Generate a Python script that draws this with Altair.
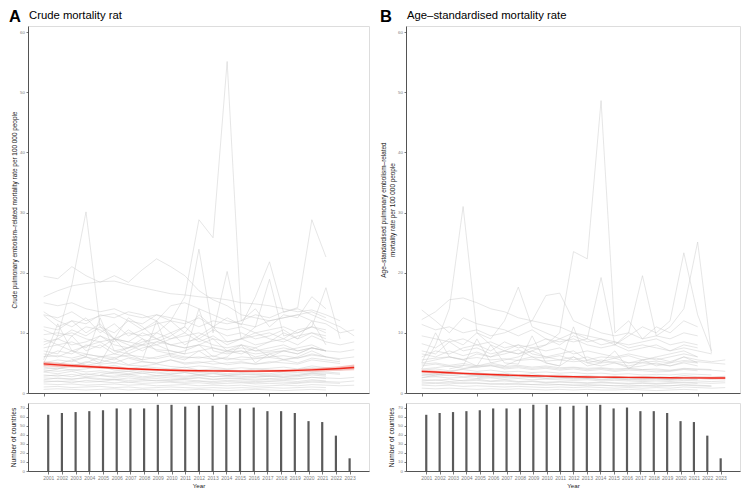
import altair as alt
import pandas as pd

YEARS = list(range(2001, 2024))
COUNTS = [62, 64, 65, 66, 67, 69, 69, 69, 73, 73, 71, 72, 72, 73, 69, 70, 66, 66, 64, 55, 54, 39, 14]

N = None
CRUDE = [
    [19.4, 19.0, 21.0, 19.5, 18.4, 19.5, 18.4, 20.5, 22.3, 21.0, 19.5, 17.0, 15.5, 14.5, 13.0, 12.5, 12.0, 12.5, 13.0, 13.5, 12.5],
    [16.0, 17.0, 17.8, 18.2, 18.5, 18.6, 18.0, 17.5, 17.0, 16.5, 16.3, 16.0, 15.8, 15.5, 15.0, 14.8, 14.5, 14.0, 13.5, 13.8, 13.0, 12.0],
    [5.0, 9.5, 18.0, 30.1, 11.0, 9.0, 8.5, 10.0, 9.0, 8.0, 8.5, 9.0, 8.0, 7.5, 8.0, 7.0, 7.5, 8.0, 7.0, 7.5, 7.0],
    [3.5, 4.0, 4.5, 5.0, 6.0, 5.5, 7.0, 8.0, 10.0, 12.0, 16.0, 28.8, 25.8, 55.1, 12.0, 14.0, 11.0, 13.0, 12.5, 16.0, 14.0],
    [8.0, 9.0, 10.5, 9.5, 11.0, 10.0, 12.0, 10.5, 11.5, 12.0, 10.0, 13.0, 11.0, 12.5, 11.3, 16.0, 21.8, 13.4, 14.2, 28.8, 22.6],
    [6.0, 7.0, 6.5, 8.0, 7.5, 9.0, 8.0, 7.0, 8.5, 9.5, 11.0, 23.9, 10.0, 20.2, 9.0, 11.0, 18.9, 9.5, 10.0, 11.0, 17.5, 9.0],
    [13.0, 12.5, 13.5, 12.0, 12.8, 13.2, 12.0, 11.5, 13.0, 12.5, 12.0, 11.0, 12.0, 11.5, 12.0, 13.0, 12.5, 13.5, 14.0, 13.0, 12.0, 11.0, 9.5],
    [11.0, 10.5, 12.0, 11.5, 13.0, 12.5, 13.5, 13.0, 12.0, 14.5, 15.0, 14.0, 13.0, 12.0, 11.5, 11.0, 12.0, 12.5, 13.0, 12.0, 11.5, 10.0, 10.5],
    [9.7, 10.0, 9.5, 11.0, 10.5, 9.0, 10.0, 9.5, 10.0, 9.0, 9.5, 10.0, 9.0, 8.5, 9.0, 9.5, 10.0, 9.0, 10.5, 11.0, 10.0],
    [15.0, 14.5, 15.0, 14.0, 13.5, 14.0, 13.0, 12.5, 13.0, 12.0, 11.5, 12.5, 11.0, 10.5, 11.0, 10.0, 10.5, 11.0, 10.0, 11.0, 10.5],
    [12.9, 11.0, 12.0, 10.0, 11.5, 9.0, 12.5, 11.0, 9.0, 10.0, 8.0, 9.5, 11.0, 8.5, 9.0, 8.0, 8.5, 10.0, 9.0, 12.0, 8.0],
    [7.5, 8.0, 7.0, 7.8, 8.5, 7.0, 7.5, 8.0, 7.2, 7.0, 6.5, 7.0, 7.5, 6.8, 7.0, 6.5, 6.8, 7.0, 6.5, 7.5, 7.0, 6.8, 7.2],
    [6.5, 6.0, 7.0, 6.5, 6.0, 6.5, 6.0, 5.5, 6.0, 6.5, 6.0, 5.8, 6.2, 5.5, 6.0, 5.8, 6.0, 6.2, 5.8, 6.5, 6.0, 5.5],
    [5.5, 11.5, 7.0, 6.0, 5.0, 9.0, 6.5, 5.5, 12.0, 6.0, 5.5, 7.0, 5.5, 6.0, 8.0, 5.0, 6.5, 5.5, 6.0, 7.0, 6.0],
    [4.8, 5.0, 4.5, 5.2, 4.8, 5.0, 4.6, 4.5, 4.8, 4.4, 4.2, 4.5, 4.3, 4.0, 4.2, 4.0, 4.1, 4.3, 4.0, 4.5, 4.2, 4.0, 4.5],
    [4.0, 4.2, 3.8, 4.0, 4.5, 3.8, 3.6, 4.0, 3.8, 3.5, 3.6, 3.4, 3.5, 3.2, 3.4, 3.3, 3.2, 3.5, 3.4, 3.6, 3.5, 3.3],
    [3.5, 3.2, 3.6, 3.0, 3.4, 3.2, 3.0, 3.3, 2.9, 3.0, 2.8, 3.0, 2.7, 2.9, 2.8, 2.6, 2.8, 2.7, 2.9, 3.2, 3.0],
    [3.0, 2.8, 3.1, 2.7, 2.9, 2.6, 2.8, 2.5, 2.7, 2.5, 2.4, 2.6, 2.3, 2.5, 2.4, 2.3, 2.4, 2.5, 2.3, 2.6, 2.5, 2.4, 2.6],
    [2.5, 2.4, 2.3, 2.5, 2.2, 2.3, 2.1, 2.2, 2.0, 2.1, 2.2, 2.0, 1.9, 2.1, 2.0, 1.9, 2.0, 2.1, 1.9, 2.2, 2.0],
    [2.0, 1.9, 2.0, 1.8, 1.9, 1.7, 1.8, 1.6, 1.7, 1.8, 1.6, 1.7, 1.5, 1.6, 1.7, 1.5, 1.6, 1.5, 1.6, 1.8, 1.7, 1.6],
    [1.5, 1.4, 1.5, 1.3, 1.4, 1.5, 1.3, 1.4, 1.2, 1.3, 1.4, 1.2, 1.3, 1.2, 1.3, 1.1, 1.2, 1.3, 1.2, 1.4, 1.3, 1.2, 1.3],
    [1.0, 1.1, 0.9, 1.0, 1.1, 0.9, 1.0, 0.8, 0.9, 1.0, 0.9, 0.8, 0.9, 0.8, 0.9, 0.8, 0.9, 0.8, 0.9, 1.0, 0.9],
    [0.6, 0.7, 0.6, 0.5, 0.6, 0.7, 0.5, 0.6, 0.5, 0.6, 0.5, 0.6, 0.5, 0.4, 0.5, 0.6, 0.5, 0.4, 0.5, 0.6, 0.5],
    [8.5, 9.0, 8.0, 8.5, 9.5, 8.0, 7.5, 8.5, 9.0, 8.0, 7.5, 8.0, 9.0, 7.0, 8.0, 7.5, 8.5, 9.0, 8.0, 9.5, 8.5, 8.0, 8.5],
    [7.0, 6.5, 9.5, 7.0, 8.0, 6.5, 7.5, 9.0, 7.0, 6.5, 7.0, 8.0, 6.0, 7.0, 6.5, 7.5, 6.0, 7.0, 7.5, 8.0, 7.0],
    [10.5, 9.5, 10.0, 9.0, 8.5, 9.0, 8.5, 8.0, 8.5, 8.0, 7.5, 8.0, 7.5, 7.0, 7.5, 7.0, 7.0, 7.5, 7.0, 7.5, 7.0],
    [5.0, 5.5, 5.2, 6.0, 5.5, 5.0, 5.8, 5.2, 5.0, 5.5, 5.0, 5.2, 4.8, 5.0, 5.2, 4.8, 5.0, 5.5, 5.0, 5.8, 5.5, 5.2],
    [4.3, 4.0, 4.8, 4.5, 4.2, 4.6, 4.0, 4.4, 4.2, 4.0, 4.3, 3.8, 4.0, 3.9, 3.7, 4.0, 3.8, 3.6, 3.9, 4.2, 4.0, 3.8, 4.1],
    [3.8, 3.6, 3.9, 3.5, 3.7, 3.4, 3.6, 3.3, 3.5, 3.2, 3.4, 3.1, 3.3, 3.0, 3.2, 3.1, 3.0, 3.2, 3.1, 3.4, 3.3, 3.1],
    [2.8, 3.0, 2.7, 3.2, 2.9, 2.8, 3.1, 2.7, 2.9, 2.8, 2.6, 2.9, 2.7, 2.8, 2.6, 2.7, 2.8, 2.6, 2.7, 3.0, 2.8],
    [6.0, 6.2, 5.8, 6.4, 6.1, 5.9, 6.3, 6.0, 5.7, 6.2, 5.8, 6.0, 5.6, 5.8, 5.5, 5.7, 5.9, 5.6, 5.8, 6.3, 6.0, 5.7, 6.0],
    [N, N, N, N, 3.0, 3.5, 3.2, 3.6, 3.3, 3.1, 3.4, 3.0, 3.2, 2.9, 3.1, 3.0, 2.8, 3.0, 2.9, 3.3, 3.1],
    [1.8, 2.0, 1.7, 2.1, 1.9, 2.2, 1.8, 2.0, 2.1, 1.9, 1.8, 2.0, 1.7, 1.9, 1.8, 1.7, 1.9, 1.8, 1.7, 2.0, 1.9, 1.8, 2.0],
    [13.5, 12.0, 11.0, 12.5, 10.0, 11.5, 9.5, 10.5, 12.0, 10.0, 11.0, 9.0, 10.5, 9.5, 10.0, 9.0, 9.5, 10.5, 9.0, 10.0, 9.5],
    [9.0, 8.0, 8.5, 7.5, 9.5, 8.5, 10.5, 9.0, 8.0, 9.0, 10.0, 8.5, 9.5, 8.0, 9.0, 10.0, 9.0, 8.5, 9.5, 10.0, 9.0],
    [4.5, 4.8, 5.5, 4.6, 5.0, 5.8, 4.7, 5.2, 4.9, 5.5, 4.8, 5.0, 5.3, 4.7, 5.0, 4.8, 5.2, 5.0, 4.8, 5.5, 5.2, 4.9],
    [2.2, 2.5, 2.3, 2.6, 2.4, 2.2, 2.5, 2.3, 2.4, 2.2, 2.3, 2.5, 2.2, 2.4, 2.3, 2.1, 2.3, 2.2, 2.4, 2.6, 2.4],
    [N, N, 5.5, 6.0, 12.5, 7.0, 6.5, 7.5, 8.0, 7.0, 6.5, 14.0, 7.0, 6.5, 7.0, 6.0, 6.5, 7.0, 6.5, 7.5, 7.0],
]

AGESTD = [
    [12.2, 13.5, 15.5, 15.8, 15.0, 14.0, 13.5, 12.5, 12.0, 11.5, 11.0, 10.0, 9.5, 9.0, 8.5, 8.0, 8.5, 9.0, 8.0, 8.5, 8.0],
    [13.8, 12.0, 10.0, 12.5, 11.5, 11.0, 10.5, 9.5, 10.5, 9.0, 8.5, 9.0, 8.0, 7.5, 8.0, 7.0, 7.5, 8.0, 7.0, 7.5, 7.0, 6.5],
    [4.0, 8.0, 14.0, 31.0, 10.0, 8.0, 7.0, 6.5, 7.0, 6.0, 5.5, 6.0, 5.0, 5.5, 5.0, 4.5, 5.0, 4.8, 4.5, 5.0, 4.5],
    [2.5, 3.0, 3.5, 4.0, 4.5, 5.0, 5.5, 6.0, 7.0, 8.0, 10.0, 23.5, 22.3, 48.6, 10.0, 12.0, 9.0, 11.0, 10.0, 12.0, 11.0],
    [6.0, 7.0, 6.5, 7.5, 8.0, 7.0, 8.5, 7.5, 8.0, 9.0, 8.0, 9.5, 8.5, 9.0, 8.0, 9.5, 11.0, 10.0, 12.0, 23.3, 13.0, 7.0],
    [5.0, 5.5, 6.0, 5.5, 6.5, 6.0, 7.0, 6.5, 7.5, 8.0, 9.0, 10.0, 9.0, 19.2, 8.0, 10.0, 19.5, 9.5, 11.0, 14.0, 25.1, 6.6],
    [8.2, 7.5, 9.0, 8.0, 10.0, 9.0, 12.0, 17.6, 11.0, 10.0, 9.0, 8.5, 9.0, 8.0, 8.5, 7.5, 8.0, 7.5, 7.0, 8.0, 7.5],
    [11.4, 10.5, 11.0, 10.0, 10.5, 9.5, 10.0, 11.0, 12.0, 16.2, 16.6, 12.0, 11.0, 10.0, 9.5, 10.0, 9.0, 9.5, 9.0, 10.0, 9.5],
    [5.5, 5.8, 6.0, 5.6, 5.9, 5.5, 5.7, 5.4, 5.6, 5.3, 5.5, 5.2, 5.4, 5.0, 5.2, 5.0, 5.1, 5.3, 5.0, 5.4, 5.2, 5.0, 4.8],
    [4.5, 4.8, 4.4, 4.6, 4.3, 4.5, 4.2, 4.4, 4.1, 4.3, 4.0, 4.2, 3.9, 4.1, 3.8, 4.0, 3.9, 3.8, 3.7, 4.0, 3.9, 3.8, 3.6],
    [3.8, 4.0, 3.7, 3.9, 3.6, 3.8, 3.5, 3.6, 3.4, 3.5, 3.3, 3.4, 3.2, 3.3, 3.1, 3.2, 3.0, 3.1, 3.0, 3.2, 3.1, 3.0],
    [3.2, 3.0, 3.3, 3.1, 2.9, 3.0, 2.8, 2.9, 2.7, 2.8, 2.6, 2.7, 2.5, 2.6, 2.5, 2.4, 2.5, 2.4, 2.3, 2.5, 2.4],
    [2.6, 2.7, 2.5, 2.6, 2.4, 2.5, 2.3, 2.4, 2.2, 2.3, 2.2, 2.1, 2.2, 2.0, 2.1, 2.0, 1.9, 2.0, 1.9, 2.1, 2.0, 1.9, 2.0],
    [2.2, 2.1, 2.3, 2.0, 2.1, 1.9, 2.0, 1.8, 1.9, 1.7, 1.8, 1.7, 1.6, 1.7, 1.6, 1.5, 1.6, 1.5, 1.6, 1.7, 1.6],
    [1.8, 1.7, 1.8, 1.6, 1.7, 1.5, 1.6, 1.5, 1.4, 1.5, 1.4, 1.3, 1.4, 1.3, 1.2, 1.3, 1.2, 1.3, 1.2, 1.4, 1.3, 1.2],
    [1.3, 1.2, 1.3, 1.1, 1.2, 1.1, 1.0, 1.1, 1.0, 0.9, 1.0, 0.9, 1.0, 0.9, 0.8, 0.9, 0.8, 0.9, 0.8, 1.0, 0.9, 0.8, 0.9],
    [0.8, 0.7, 0.8, 0.7, 0.6, 0.7, 0.6, 0.7, 0.6, 0.5, 0.6, 0.5, 0.6, 0.5, 0.5, 0.6, 0.5, 0.4, 0.5, 0.6, 0.5],
    [5.0, 10.0, 6.0, 5.5, 4.5, 8.0, 5.0, 4.8, 9.5, 5.0, 4.5, 6.0, 4.5, 5.0, 7.0, 4.0, 5.5, 4.5, 5.0, 6.0, 5.0],
    [6.5, 6.0, 7.0, 6.2, 6.8, 6.0, 6.5, 7.2, 6.0, 5.8, 6.2, 5.5, 6.0, 5.2, 5.8, 5.0, 5.5, 5.8, 5.2, 6.0, 5.5, 5.2, 5.5],
    [4.0, 4.2, 4.5, 4.1, 4.3, 4.6, 4.0, 4.2, 3.9, 4.1, 3.8, 4.0, 3.7, 3.9, 3.6, 3.8, 3.7, 3.5, 3.6, 3.9, 3.7],
    [3.5, 3.3, 3.6, 3.2, 3.4, 3.1, 3.3, 3.0, 3.2, 2.9, 3.0, 2.8, 2.9, 2.7, 2.8, 2.6, 2.7, 2.8, 2.6, 2.9, 2.7, 2.6, 2.8],
    [2.9, 2.8, 3.0, 2.7, 2.8, 2.6, 2.7, 2.5, 2.6, 2.4, 2.5, 2.3, 2.4, 2.2, 2.3, 2.2, 2.1, 2.2, 2.1, 2.3, 2.2],
    [1.5, 1.6, 1.5, 1.7, 1.6, 1.5, 1.4, 1.5, 1.4, 1.3, 1.4, 1.3, 1.2, 1.3, 1.2, 1.1, 1.2, 1.1, 1.2, 1.3, 1.2, 1.1],
    [7.0, 6.5, 8.5, 7.0, 7.5, 6.5, 7.0, 8.0, 6.5, 6.0, 6.5, 7.0, 5.5, 6.0, 5.8, 6.2, 5.5, 6.0, 6.5, 7.0, 6.0],
    [9.5, 9.0, 8.5, 9.0, 8.0, 8.5, 7.5, 8.0, 7.5, 7.0, 7.5, 6.5, 7.0, 6.5, 6.0, 6.5, 6.0, 5.5, 6.0, 6.5, 6.0],
    [N, N, 4.0, 4.5, 9.0, 5.0, 4.5, 5.5, 6.0, 5.0, 4.5, 11.0, 5.0, 4.5, 5.0, 4.2, 4.5, 5.0, 4.5, 5.2, 5.0],
    [2.0, 2.2, 1.9, 2.1, 2.3, 2.0, 2.2, 1.9, 2.0, 1.8, 1.9, 1.8, 1.7, 1.8, 1.7, 1.6, 1.7, 1.6, 1.7, 1.8, 1.7, 1.6, 1.7],
    [N, N, N, N, 2.5, 2.8, 2.6, 2.9, 2.7, 2.5, 2.6, 2.4, 2.5, 2.3, 2.4, 2.2, 2.3, 2.4, 2.2, 2.5, 2.3],
    [4.8, 5.0, 4.6, 4.9, 4.5, 4.7, 4.4, 4.6, 4.3, 4.5, 4.2, 4.3, 4.1, 4.2, 4.0, 4.1, 3.9, 4.0, 3.8, 4.1, 4.0, 3.9],
    [3.0, 3.2, 2.9, 3.1, 2.8, 3.0, 2.7, 2.9, 2.6, 2.8, 2.5, 2.7, 2.4, 2.6, 2.4, 2.5, 2.3, 2.4, 2.3, 2.5, 2.4, 2.3, 2.5],
]

CRUDE_FIT = [4.84, 4.68, 4.54, 4.40, 4.27, 4.15, 4.04, 3.94, 3.86, 3.79, 3.74, 3.70, 3.67, 3.65, 3.64, 3.64, 3.66, 3.70, 3.76, 3.84, 3.95, 4.08, 4.25]
CRUDE_LO = [4.45, 4.34, 4.24, 4.14, 4.03, 3.93, 3.84, 3.76, 3.68, 3.61, 3.56, 3.52, 3.49, 3.47, 3.46, 3.46, 3.47, 3.50, 3.54, 3.58, 3.63, 3.70, 3.78]
CRUDE_HI = [5.23, 5.02, 4.84, 4.66, 4.51, 4.37, 4.24, 4.12, 4.04, 3.97, 3.92, 3.88, 3.85, 3.83, 3.82, 3.82, 3.85, 3.90, 3.98, 4.10, 4.27, 4.46, 4.72]

AGE_FIT = [3.60, 3.48, 3.37, 3.26, 3.16, 3.07, 2.99, 2.92, 2.86, 2.80, 2.75, 2.71, 2.67, 2.64, 2.61, 2.59, 2.57, 2.55, 2.53, 2.52, 2.51, 2.50, 2.50]
AGE_LO = [3.32, 3.24, 3.16, 3.07, 2.99, 2.91, 2.84, 2.78, 2.72, 2.67, 2.62, 2.58, 2.55, 2.52, 2.49, 2.46, 2.44, 2.41, 2.38, 2.35, 2.32, 2.29, 2.25]
AGE_HI = [3.88, 3.72, 3.58, 3.45, 3.33, 3.23, 3.14, 3.06, 3.00, 2.93, 2.88, 2.84, 2.79, 2.76, 2.73, 2.72, 2.70, 2.69, 2.68, 2.69, 2.70, 2.71, 2.75]

FONT = "Liberation Sans"
AX = dict(domainColor="#444444", domainWidth=0.9, tickColor="#555555", tickWidth=0.8,
          labelColor="#808080", labelFont=FONT, titleFont=FONT, titleColor="#222222",
          titleFontWeight="normal", grid=False, labelOverlap=False, labelFlush=False)


def long_df(series):
    rows = []
    for i, s in enumerate(series):
        for y, v in zip(YEARS, s):
            if v is not None:
                rows.append({"country": i, "year": y, "value": v})
    return pd.DataFrame(rows)


def panel(letter, letter_dx, title, title_dx, series, fit, lo, hi, ytitle, width, xdom):
    xs = alt.Scale(domain=xdom, nice=False, zero=False)
    ys = alt.Scale(domain=[0, 61], nice=False)
    df = long_df(series)
    tdf = pd.DataFrame({"year": YEARS, "fit": fit, "lo": lo, "hi": hi})
    xaxis = alt.Axis(values=YEARS, labels=False, tickSize=3, title=None, **AX)
    yaxis = alt.Axis(values=list(range(0, 61, 5)), tickSize=2, labelFontSize=4.4, labelPadding=1.5,
                     titleFontSize=6.4, titlePadding=2.5, titleLineHeight=8.5, title=ytitle, **AX)
    lines = alt.Chart(df).mark_line(color="#c8c8c8", strokeWidth=0.55, opacity=0.85).encode(
        x=alt.X("year:Q", scale=xs, axis=xaxis),
        y=alt.Y("value:Q", scale=ys, axis=yaxis),
        detail="country:N",
    )
    band = alt.Chart(tdf).mark_area(color="#f4a09a", opacity=0.6).encode(
        x=alt.X("year:Q", title=None), y=alt.Y("lo:Q", title=ytitle), y2="hi:Q"
    )
    fitl = alt.Chart(tdf).mark_line(color="#f0281c", strokeWidth=1.4).encode(
        x=alt.X("year:Q", title=None), y=alt.Y("fit:Q", title=ytitle)
    )
    lab = alt.Chart(pd.DataFrame({"t": [letter]})).mark_text(
        font=FONT, fontSize=16.5, fontWeight="bold", align="left", baseline="alphabetic", color="black"
    ).encode(text="t:N", x=alt.value(letter_dx), y=alt.value(-4.5))
    ttl = alt.Chart(pd.DataFrame({"t": [title]})).mark_text(
        font=FONT, fontSize=11.3, align="left", baseline="alphabetic", color="black"
    ).encode(text="t:N", x=alt.value(title_dx), y=alt.value(-6.8))
    top = alt.layer(lines, band, fitl, lab, ttl).properties(width=width, height=367)

    cdf = pd.DataFrame({"year": YEARS, "n": COUNTS})
    bars = alt.Chart(cdf).mark_bar(size=2.2, color="#5a5a5a").encode(
        x=alt.X("year:Q", scale=xs,
                axis=alt.Axis(values=YEARS, format="d", labelAngle=0, labelFontSize=5, tickSize=3,
                              labelPadding=1.5, title="Year", titleFontSize=6.2, titlePadding=1.5, **AX)),
        y=alt.Y("n:Q", scale=alt.Scale(domain=[0, 75], nice=False),
                axis=alt.Axis(values=list(range(0, 71, 10)), tickSize=2, labelFontSize=4.4, labelPadding=1.5,
                              title="Number of countries", titleFontSize=6.6, titlePadding=3, **AX)),
    ).properties(width=width, height=68)
    return alt.vconcat(top, bars, spacing=5)


pa = panel("A", -19, "Crude mortality rat", 1, CRUDE, CRUDE_FIT, CRUDE_LO, CRUDE_HI,
           "Crude pulmonary embolism\u2013related mortality rate per 100 000 people",
           341, [1999.89, 2024.05])
pb = panel("B", -26, "Age\u2013standardised mortality rate", 1, AGESTD, AGE_FIT, AGE_LO, AGE_HI,
           ["Age\u2013standardised pulmonary embolism\u2013related", "mortality rate per 100 000 people"],
           334, [1999.86, 2024.07])

chart = alt.hconcat(pa, pb, spacing=9).properties(
    padding={"left": 0, "top": 0, "right": 0, "bottom": 0}
).configure_view(stroke=None).configure(font=FONT)

chart.save("out.html", embed_options={"renderer": "svg", "actions": False})
